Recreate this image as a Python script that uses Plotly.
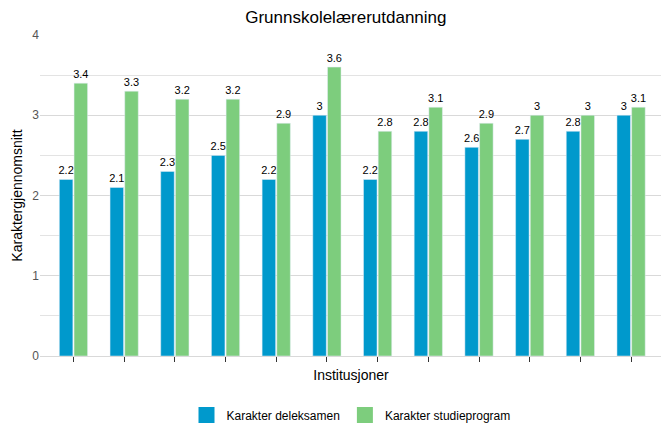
import plotly.graph_objects as go

# Data
institusjoner = [f"Inst {i}" for i in range(1, 13)]
deleksamen = [2.2, 2.1, 2.3, 2.5, 2.2, 3, 2.2, 2.8, 2.6, 2.7, 2.8, 3]
studieprogram = [3.4, 3.3, 3.2, 3.2, 2.9, 3.6, 2.8, 3.1, 2.9, 3, 3, 3.1]
serier = ["Karakter deleksamen", "Karakter studieprogram"]

BLUE = "#0099cc"
GREEN = "#7dcd7d"
FONT = "Liberation Sans, Arial, sans-serif"

fig = go.Figure()
for name, vals, col in zip(serier, [deleksamen, studieprogram], [BLUE, GREEN]):
    fig.add_trace(go.Bar(
        x=institusjoner, y=vals, name=name, marker_color=col,
        text=[f"{v:g}" for v in vals], textposition="outside",
        textfont=dict(size=11, color="#000"), cliponaxis=False,
        showlegend=False,
    ))
    # legend proxy with a larger square swatch
    fig.add_trace(go.Scatter(
        x=[None], y=[None], mode="markers", name=name,
        marker=dict(symbol="square", size=20, color=col),
    ))

# page body has an 8px default margin, so margins are offset by that
fig.update_layout(
    width=669, height=443,
    margin=dict(l=32, r=15, t=27, b=95, autoexpand=False),
    paper_bgcolor="white", plot_bgcolor="white",
    font=dict(family=FONT, color="#000"),
    title=dict(text="Grunnskolelærerutdanning", x=0.505, xanchor="center",
               y=0.98, yanchor="middle", font=dict(size=17, color="#000")),
    barmode="group", bargap=0.42, bargroupgap=0.08,
    uniformtext=dict(minsize=11, mode="show"),
    legend=dict(orientation="h", x=0.5, xanchor="center", y=-0.184, yanchor="middle",
                font=dict(size=12, color="#000"), itemwidth=30, tracegroupgap=0),
)
fig.update_xaxes(
    title=dict(text="Institusjoner", font=dict(size=14, color="#000"), standoff=9),
    showticklabels=False, ticks="outside", ticklen=5, tickcolor="#333",
    showline=True, linecolor="#d9d9d9", range=[-0.66, 11.61], automargin=False,
)
fig.update_yaxes(
    title=dict(text="Karaktergjennomsnitt", font=dict(size=14, color="#000"), standoff=6),
    range=[0, 4], dtick=1, tickfont=dict(size=12, color="#555"),
    showgrid=True, gridcolor="#d9d9d9", zeroline=False, automargin=False,
    minor=dict(dtick=0.5, showgrid=True, gridcolor="#e3e3e3"),
)

fig.write_html("out.html")
